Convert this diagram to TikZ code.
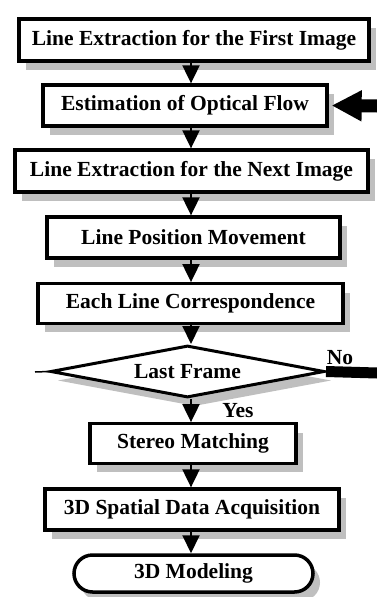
\documentclass[tikz,border=0pt]{standalone}
\usepackage{fontspec}
\setmainfont{Liberation Serif}
\usetikzlibrary{arrows.meta,shapes.geometric,shapes.misc,shadows}

\begin{document}
\begin{tikzpicture}[x=1pt,y=-1pt,
		font=\bfseries\fontsize{21.5}{25}\selectfont,
		boxshadow/.style={drop shadow={shadow xshift=7pt,shadow yshift=-9pt,fill=black!25,opacity=1}},
		stepbox/.style={draw,line width=3.3pt,fill=white,inner sep=0pt,boxshadow},
		decision/.style={diamond,aspect=5.3,draw,line width=3pt,fill=white,inner sep=0pt,boxshadow},
		terminal/.style={rounded rectangle,draw,line width=3.5pt,fill=white,inner sep=0pt,boxshadow},
		flowarrow/.style={line width=2pt,-{Triangle[length=18pt,width=17pt]}},
		bigarrow/.style={line width=13pt,-{Triangle[length=30pt,width=29pt]}}]
			\useasboundingbox (0,0) rectangle (377,597);
			\coordinate (axis) at (191,0);
			% process steps
			\node[stepbox, minimum width=350pt, minimum height=42pt] (first) at (194,40) {Line Extraction for the First Image};
			\node[stepbox, minimum width=284pt, minimum height=41pt] (flow) at (185,105.5) {Estimation of Optical Flow};
			\node[stepbox, minimum width=353pt, minimum height=42pt] (next) at (191.5,171) {Line Extraction for the Next Image};
			\node[stepbox, minimum width=293pt, minimum height=41pt] (move) at (193.5,237.5) {Line Position Movement};
			\node[stepbox, minimum width=305pt, minimum height=39.5pt] (corr) at (190.5,303.5) {Each Line Correspondence};
			\node[decision, minimum width=274pt, minimum height=52pt] (last) at (187.5,371.5) {Last Frame};
			\node[stepbox, minimum width=206pt, minimum height=39.5pt] (stereo) at (193,443.5) {Stereo Matching};
			\node[stepbox, minimum width=294pt, minimum height=41pt] (acq) at (192,509.5) {3D Spatial Data Acquisition};
			\node[terminal, minimum width=239pt, minimum height=37pt] (model) at (193.5,573.5) {3D Modeling};
			% arrows down the chain
			\foreach \a/\b in {first/flow,flow/next,next/move,move/corr,corr/last,last/stereo,stereo/acq,acq/model}
				{
					\draw[flowarrow] (\a.south -| axis) -- (\b.north -| axis);
				}
			% loop back
			\coordinate (stub) at (35,372);
			\coordinate (loop) at (377,373);
			\coordinate (feed) at (377,106);
			\draw[line width=1.5pt] (stub) -- (last.west);
			\draw[line width=11pt] (last.east) -- (loop);
			\draw[bigarrow] (feed) -- ([xshift=3pt]flow.east);
			\node[inner sep=0pt] (no) at (340,358) {No};
			\node[inner sep=0pt] (yes) at (238,411) {Yes};
\end{tikzpicture}
\end{document}
